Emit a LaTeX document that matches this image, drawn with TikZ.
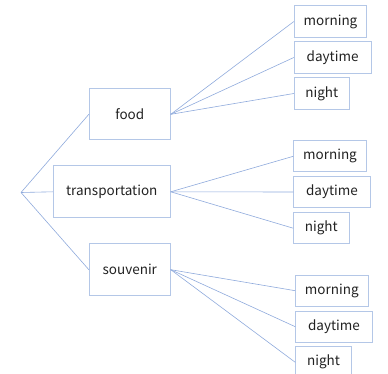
\documentclass[tikz,border=0pt]{standalone}
\usepackage{fontspec}
\setmainfont{Noto Sans CJK JP}
\definecolor{boxline}{HTML}{B4C7E7}
\definecolor{conn}{HTML}{8FAADC}
\definecolor{txt}{HTML}{222222}
\begin{document}
\begin{tikzpicture}[x=1pt,y=-1pt,
  box/.style={draw=boxline, line width=0.9pt, inner sep=0pt, text=txt,
    font=\fontsize{13.5}{16}\selectfont},
  link/.style={draw=conn, line width=0.6pt}]
\useasboundingbox (0,0) rectangle (388,374);
\clip (0,0) rectangle (388,374);
\coordinate (root) at (21,192.5);
\node[box, minimum width=81pt, minimum height=51.3pt] (food) at (129.8,114.3) {food};
\node[box, minimum width=117pt, minimum height=51.7pt] (trans) at (111.8,191.8) {transportation};
\node[box, minimum width=81pt, minimum height=52pt] (souv) at (129.8,269.7) {souvenir};
\node[box, minimum width=72.4pt, minimum height=31.6pt] (m1) at (330.5,21.5) {morning};
\node[box, minimum width=76.7pt, minimum height=31.6pt] (d1) at (332.6,57.5) {daytime};
\node[box, minimum width=55pt, minimum height=31.6pt] (n1) at (321.8,93.5) {night};
\node[box, minimum width=72.6pt, minimum height=31.3pt] (m2) at (330,156.3) {morning};
\node[box, minimum width=76.6pt, minimum height=31.4pt] (d2) at (332,192) {daytime};
\node[box, minimum width=55.3pt, minimum height=31pt] (n2) at (321.3,228.2) {night};
\node[box, minimum width=72.3pt, minimum height=30.7pt] (m3) at (331.8,290.7) {morning};
\node[box, minimum width=76.6pt, minimum height=31.3pt] (d3) at (334,326.7) {daytime};
\node[box, minimum width=55.6pt, minimum height=31.3pt] (n3) at (323.5,362.3) {night};
\draw[link] (root) -- (food.west);
\draw[link] (root) -- (trans.west);
\draw[link] (root) -- (souv.west);
\draw[link] (food.east) -- (m1.west);
\draw[link] (food.east) -- (d1.west);
\draw[link] (food.east) -- (n1.west);
\draw[link] (trans.east) -- (m2.west);
\draw[link] (trans.east) -- (d2.west);
\draw[link] (trans.east) -- (n2.west);
\draw[link] (souv.east) -- (m3.west);
\draw[link] (souv.east) -- (d3.west);
\draw[link] (souv.east) -- (n3.west);
\end{tikzpicture}
\end{document}
